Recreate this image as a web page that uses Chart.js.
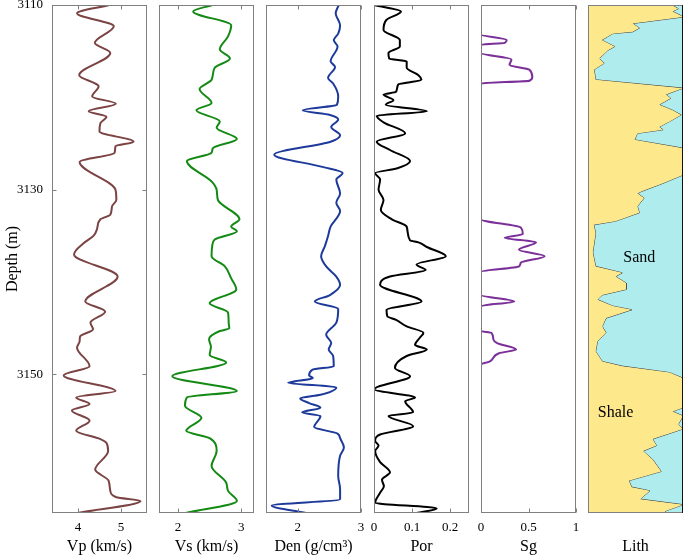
<!DOCTYPE html>
<html>
<head>
<meta charset="utf-8">
<script src="https://cdn.jsdelivr.net/npm/chart.js@4.4.1/dist/chart.umd.min.js"></script>
<style>
  body { margin: 0; background: #fff; }
  #wrap { position: relative; width: 685px; height: 556px; }
  #wrap canvas { position: absolute; top: 0; }
</style>
</head>
<body>
<div id="wrap"></div>
<script>
// profondeur (m)
const depthTicks = [3110, 3130, 3150];
const depthMin = 3110;
const depthMax = 3165;

// Vp (km/s)
const vpDepth = [3110, 3110.9, 3112.3, 3114.1, 3115.2, 3117.6, 3118.8, 3119.9, 3120.7, 3121.5, 3122.1, 3122.8, 3123.7, 3124.8, 3125.3, 3126.0, 3127.0, 3130.0, 3131.1, 3131.8, 3132.7, 3133.2, 3134.3, 3135.0, 3135.8, 3137.0, 3139.4, 3142.1, 3143.2, 3144.4, 3145.1, 3145.9, 3146.4, 3147.1, 3149.1, 3150.1, 3151.8, 3152.5, 3153.2, 3153.9, 3155.0, 3156.1, 3157.0, 3157.4, 3158.3, 3160.3, 3161.5, 3162.6, 3163.3, 3163.7, 3165.0];
const vpVal = [4.73, 3.98, 4.83, 4.39, 4.75, 4.03, 4.48, 4.33, 4.88, 4.25, 4.66, 4.52, 4.50, 5.29, 4.87, 4.85, 4.04, 4.87, 4.89, 4.79, 4.75, 4.52, 4.44, 4.36, 4.13, 3.91, 4.92, 4.17, 4.63, 4.29, 4.35, 4.05, 4.04, 3.98, 4.27, 3.67, 4.87, 3.96, 4.27, 3.86, 4.27, 3.96, 4.52, 4.66, 4.70, 4.40, 4.71, 4.75, 4.89, 5.45, 3.99];
const vpTicks = [4, 5];

// Vs (km/s)
const vsDepth = [3110, 3110.7, 3112.2, 3113.4, 3114.8, 3115.8, 3116.8, 3118.1, 3119.1, 3120.6, 3121.4, 3122.6, 3123.3, 3124.5, 3125.5, 3126.0, 3126.9, 3129.1, 3130.0, 3131.1, 3133.2, 3134.0, 3134.5, 3135.4, 3136.1, 3137.2, 3138.3, 3139.6, 3140.8, 3142.3, 3143.3, 3144.4, 3145.0, 3145.3, 3146.2, 3147.0, 3147.9, 3148.7, 3150.2, 3151.8, 3152.5, 3153.4, 3154.7, 3156.1, 3156.9, 3158.3, 3159.9, 3161.7, 3162.6, 3163.7, 3165.0];
const vsVal = [2.54, 2.24, 2.84, 2.79, 2.66, 2.82, 2.58, 2.53, 2.34, 2.53, 2.29, 2.66, 2.61, 2.93, 2.55, 2.53, 2.14, 2.53, 2.61, 2.63, 2.97, 2.84, 2.93, 2.58, 2.54, 2.53, 2.74, 2.84, 2.92, 2.50, 2.79, 2.80, 2.81, 2.66, 2.49, 2.52, 2.50, 2.76, 1.91, 2.93, 2.14, 2.11, 2.37, 2.13, 2.50, 2.61, 2.53, 2.76, 2.79, 2.93, 2.12];
const vsTicks = [2, 3];

// Den (g/cm3)
const denDepth = [3110, 3110.9, 3112.2, 3113.1, 3113.8, 3114.5, 3116.1, 3116.7, 3117.9, 3118.5, 3119.9, 3120.8, 3121.4, 3121.9, 3122.4, 3123.2, 3124.1, 3124.8, 3126.2, 3127.5, 3128.2, 3128.9, 3130.4, 3131.4, 3132.3, 3134.0, 3135.0, 3136.1, 3137.2, 3138.3, 3139.4, 3140.3, 3141.4, 3142.1, 3142.9, 3144.4, 3145.7, 3146.6, 3147.3, 3148.0, 3149.1, 3149.5, 3150.1, 3150.4, 3150.9, 3151.4, 3152.2, 3152.6, 3153.1, 3153.6, 3154.1, 3154.5, 3155.7, 3156.4, 3156.9, 3157.9, 3158.8, 3161.0, 3162.4, 3163.5, 3164.2, 3165.0];
const denVal = [2.65, 2.60, 2.67, 2.64, 2.57, 2.63, 2.52, 2.59, 2.48, 2.56, 2.64, 2.62, 2.08, 2.51, 2.64, 2.53, 2.67, 2.52, 1.63, 2.37, 2.71, 2.61, 2.67, 2.61, 2.67, 2.52, 2.48, 2.43, 2.37, 2.45, 2.61, 2.67, 2.51, 2.27, 2.64, 2.61, 2.45, 2.53, 2.49, 2.56, 2.57, 2.23, 2.18, 2.24, 1.85, 2.61, 2.36, 2.04, 2.18, 2.36, 2.07, 2.36, 2.26, 2.63, 2.67, 2.73, 2.67, 2.64, 2.67, 2.67, 1.59, 2.13];
const denTicks = [2, 3];

// Por
const porDepth = [3110, 3110.7, 3111.6, 3112.7, 3113.8, 3114.5, 3115.2, 3115.8, 3116.1, 3116.8, 3117.6, 3118.1, 3118.6, 3119.4, 3119.7, 3120.3, 3120.8, 3121.5, 3122.0, 3122.7, 3123.9, 3124.8, 3125.7, 3126.9, 3127.7, 3128.2, 3128.9, 3130.0, 3131.1, 3132.2, 3133.2, 3134.0, 3135.5, 3135.7, 3136.2, 3137.2, 3138.1, 3138.7, 3139.4, 3140.3, 3142.1, 3143.0, 3143.7, 3144.1, 3144.8, 3145.5, 3146.0, 3146.8, 3147.3, 3148.0, 3149.3, 3150.2, 3151.6, 3152.5, 3152.9, 3154.1, 3154.5, 3155.6, 3156.5, 3157.2, 3157.7, 3158.3, 3159.5, 3160.6, 3161.4, 3162.1, 3162.8, 3163.9, 3164.5, 3165.0];
const porVal = [0.000, 0.071, 0.033, 0.025, 0.068, 0.068, 0.038, 0.040, 0.086, 0.086, 0.117, 0.125, 0.064, 0.058, 0.025, 0.051, 0.031, 0.139, 0.007, 0.025, 0.082, 0.007, 0.042, 0.095, 0.060, 0.003, 0.016, 0.012, 0.025, 0.018, 0.047, 0.086, 0.095, 0.117, 0.139, 0.189, 0.112, 0.136, 0.042, 0.016, 0.125, 0.033, 0.035, 0.058, 0.086, 0.130, 0.121, 0.108, 0.139, 0.086, 0.055, 0.095, 0.001, 0.108, 0.082, 0.103, 0.038, 0.103, 0.016, 0.003, 0.012, 0.003, 0.016, 0.042, 0.021, 0.026, 0.016, 0.003, 0.165, 0.112];
const porTicks = [0, 0.1, 0.2];

// Sg
const sgDepth = [3110, 3113.2, 3113.8, 3114.1, 3114.3, 3115.2, 3115.9, 3116.5, 3117.0, 3117.8, 3118.2, 3118.5, 3133.2, 3134.1, 3134.8, 3135.2, 3135.7, 3136.5, 3137.2, 3137.9, 3138.3, 3138.9, 3141.4, 3142.1, 3142.6, 3145.3, 3145.5, 3146.2, 3146.6, 3147.3, 3147.7, 3148.6, 3148.9, 3165];
const sgVal = [0, 0, 0.27, 0.25, 0, 0, 0.32, 0.30, 0.51, 0.54, 0.51, 0, 0, 0.42, 0.44, 0.25, 0.58, 0.40, 0.67, 0.42, 0.40, 0, 0, 0.35, 0, 0, 0.11, 0.13, 0.17, 0.37, 0.19, 0.09, 0, 0];
const sgTicks = [0, 0.5, 1];

// Lith : limite shale / sand (fraction de la largeur)
const lithDepth = [3110, 3110.4, 3110.7, 3111.1, 3111.3, 3112.0, 3112.5, 3112.9, 3113.1, 3113.8, 3114.5, 3114.9, 3115.8, 3116.3, 3117.0, 3118.1, 3119.0, 3119.7, 3120.1, 3120.8, 3121.4, 3121.9, 3122.6, 3123.2, 3123.5, 3123.9, 3124.6, 3125.5, 3128.4, 3129.3, 3130.2, 3130.4, 3130.9, 3131.8, 3132.5, 3133.4, 3133.8, 3134.7, 3136.8, 3138.3, 3139.0, 3139.4, 3140.1, 3140.8, 3141.4, 3141.9, 3142.6, 3143.0, 3143.9, 3144.8, 3145.5, 3146.4, 3147.5, 3148.6, 3149.1, 3149.8, 3150.4, 3153.6, 3154.0, 3154.5, 3155.4, 3155.9, 3157.0, 3157.7, 3158.3, 3159.2, 3160.5, 3161.5, 3162.2, 3162.6, 3163.5, 3164.1, 3164.8, 3165.0];
const lithVal = [0.88, 0.95, 0.89, 0.97, 1.0, 0.47, 0.54, 0.47, 0.26, 0.145, 0.28, 0.21, 0.12, 0.17, 0.064, 0.08, 1.0, 0.82, 0.87, 0.75, 0.89, 0.98, 0.86, 0.75, 0.79, 0.52, 0.49, 1.0, 1.0, 0.79, 0.56, 0.52, 0.59, 0.52, 0.54, 0.29, 0.06, 0.08, 0.05, 0.08, 0.36, 0.29, 0.40, 0.40, 0.15, 0.10, 0.26, 0.46, 0.19, 0.15, 0.19, 0.10, 0.08, 0.15, 0.36, 0.86, 1.0, 1.0, 0.89, 1.0, 0.95, 1.0, 0.68, 0.72, 0.58, 0.68, 0.77, 0.43, 0.46, 0.65, 0.55, 1.0, 0.81, 0.82];
const lithLabels = [{ text: 'Sand', x: 0.54, y: 3137.4 }, { text: 'Shale', x: 0.29, y: 3154.1 }];

Chart.defaults.font.family = '"Liberation Serif", "Times New Roman", serif';
Chart.defaults.color = '#000';

const wrap = document.getElementById('wrap');
const plotLeft = [52, 159, 266, 374, 481, 588];
const plotW = 95;
const pad = 12;

function pts(depths, vals) {
  return depths.map((d, i) => ({ x: vals[i], y: d }));
}

function curve(depths, vals, color) {
  return {
    data: pts(depths, vals),
    borderColor: color,
    borderWidth: 2,
    pointRadius: 0,
    fill: false,
    cubicInterpolationMode: 'monotone'
  };
}

const tracks = [
  { title: 'Vp (km/s)', min: 3.4, max: 5.6, ticks: vpTicks, datasets: [curve(vpDepth, vpVal, '#7b4343')] },
  { title: 'Vs (km/s)', min: 1.7, max: 3.2, ticks: vsTicks, datasets: [curve(vsDepth, vsVal, '#138a13')] },
  { title: 'Den (g/cm³)', min: 1.5, max: 3, ticks: denTicks, datasets: [curve(denDepth, denVal, '#1d3a9b')] },
  { title: 'Por', min: 0, max: 0.25, ticks: porTicks, datasets: [curve(porDepth, porVal, '#000000')] },
  { title: 'Sg', min: 0, max: 1, ticks: sgTicks, datasets: [curve(sgDepth, sgVal, '#7b2f98')] },
  { title: 'Lith', min: 0, max: 1, ticks: [], lith: true, datasets: [
    { data: pts(lithDepth, lithVal), borderWidth: 0, pointRadius: 0, backgroundColor: '#fde98c', fill: { value: 0 } },
    { data: pts(lithDepth, lithVal), borderWidth: 1, borderColor: '#3a3a3a', pointRadius: 0, backgroundColor: '#aeeced', fill: { value: 1 } }
  ] }
];

// cadre + petits traits de graduation vers l'intérieur
function framePlugin(t, first) {
  return {
    id: 'frame',
    afterDatasetsDraw(chart) {
      const ctx = chart.ctx;
      const a = chart.chartArea;
      const sx = chart.scales.x, sy = chart.scales.y;
      const L = a.left + 0.5, R = a.right - 0.5, T = a.top + 0.5, B = a.bottom - 0.5;
      ctx.save();
      ctx.lineWidth = 1;
      ctx.strokeStyle = '#808080';
      ctx.beginPath();
      t.ticks.forEach(v => {
        const p = Math.round(sx.getPixelForValue(v)) + 0.5;
        ctx.moveTo(p, T); ctx.lineTo(p, T + 4);
        ctx.moveTo(p, B); ctx.lineTo(p, B - 4);
      });
      if (first) {
        depthTicks.forEach(v => {
          const p = Math.round(sy.getPixelForValue(v)) + 0.5;
          ctx.moveTo(L, p); ctx.lineTo(L + 4, p);
          ctx.moveTo(R, p); ctx.lineTo(R - 4, p);
        });
      }
      ctx.stroke();
      ctx.strokeRect(L, T, R - L, B - T);
      if (t.lith) {
        ctx.strokeStyle = '#111';
        ctx.beginPath(); ctx.moveTo(R, a.top); ctx.lineTo(R, a.bottom); ctx.stroke();
        ctx.fillStyle = '#000';
        ctx.font = '16px "Liberation Serif", serif';
        ctx.textAlign = 'center';
        ctx.textBaseline = 'middle';
        lithLabels.forEach(l => ctx.fillText(l.text, sx.getPixelForValue(l.x), sy.getPixelForValue(l.y)));
      }
      ctx.restore();
    }
  };
}

tracks.forEach((t, i) => {
  const first = i === 0;
  const cv = document.createElement('canvas');
  const left = first ? 0 : plotLeft[i] - pad;
  cv.width = first ? plotLeft[0] + plotW + pad : plotW + 2 * pad;
  cv.height = 556;
  cv.style.left = left + 'px';
  wrap.appendChild(cv);

  new Chart(cv, {
    type: 'line',
    data: { datasets: t.datasets },
    options: {
      responsive: false,
      animation: false,
      devicePixelRatio: 1,
      indexAxis: 'y',
      layout: { autoPadding: false, padding: { left: first ? 0 : pad, right: pad, top: 5, bottom: 0 } },
      plugins: { legend: { display: false }, tooltip: { enabled: false } },
      scales: {
        x: {
          type: 'linear',
          position: 'bottom',
          min: t.min,
          max: t.max,
          grid: { display: false, drawTicks: false },
          border: { display: false },
          afterFit: s => { s.height = 43; s.paddingLeft = 0; s.paddingRight = 0; },
          afterBuildTicks: s => { s.ticks = t.ticks.map(v => ({ value: v })); },
          ticks: { display: t.ticks.length > 0, padding: 7, autoSkip: false, maxRotation: 0, font: { size: 13 }, callback: v => String(v) },
          title: { display: true, text: t.title, font: { size: 16 }, padding: { top: 0, bottom: 0 } }
        },
        y: {
          type: 'linear',
          reverse: true,
          min: depthMin,
          max: depthMax,
          display: first,
          grid: { display: false, drawTicks: false },
          border: { display: false },
          afterFit: s => {
            s.width = first ? plotLeft[0] : 0;
            s.paddingTop = 0;
            s.paddingBottom = 0;
          },
          afterBuildTicks: s => { s.ticks = depthTicks.map(v => ({ value: v })); },
          ticks: { padding: 9, font: { size: 13 }, callback: v => String(v) },
          title: { display: true, text: 'Depth (m)', font: { size: 16 }, padding: { top: 3, bottom: 0 } }
        }
      }
    },
    plugins: [framePlugin(t, first)]
  });
});
</script>
</body>
</html>
